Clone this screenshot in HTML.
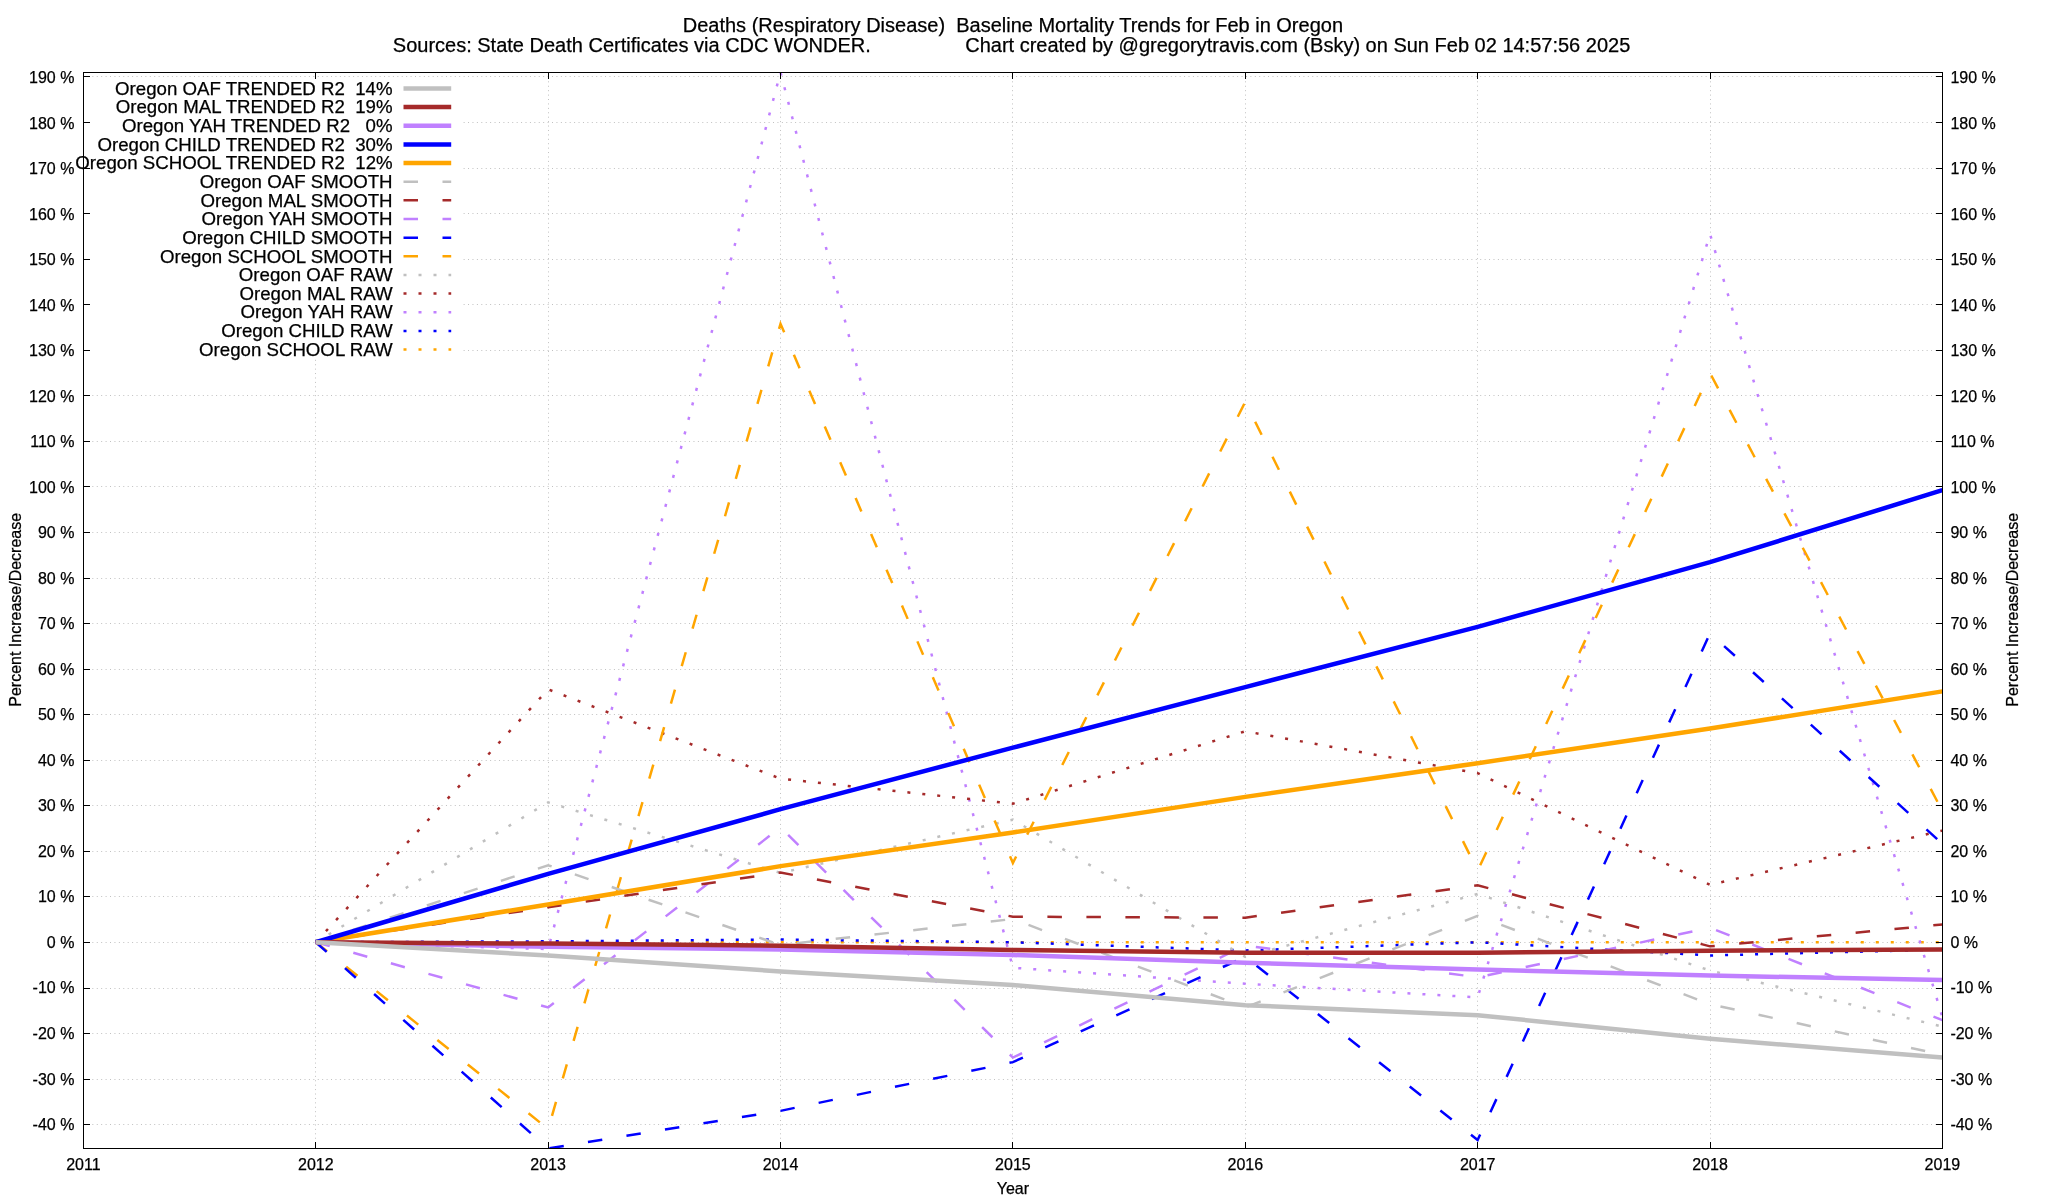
<!DOCTYPE html><html><head><meta charset="utf-8"><style>html,body{margin:0;padding:0;background:#fff;}svg{display:block;will-change:transform;}text{font-family:"Liberation Sans",sans-serif;fill:#000;stroke:#000;stroke-width:0.25px;}</style></head><body>
<svg width="2048" height="1200" viewBox="0 0 2048 1200">
<rect x="0" y="0" width="2048" height="1200" fill="#fff"/>
<path d="M83.5 1124.5H1942.5M83.5 1079.5H1942.5M83.5 1033.5H1942.5M83.5 988.5H1942.5M83.5 942.5H1942.5M83.5 896.5H1942.5M83.5 851.5H1942.5M83.5 805.5H1942.5M83.5 760.5H1942.5M83.5 714.5H1942.5M83.5 669.5H1942.5M83.5 623.5H1942.5M83.5 578.5H1942.5M83.5 532.5H1942.5M83.5 486.5H1942.5M83.5 441.5H1942.5M83.5 395.5H1942.5M83.5 350.5H1942.5M83.5 304.5H1942.5M83.5 259.5H1942.5M83.5 213.5H1942.5M83.5 168.5H1942.5M83.5 122.5H1942.5M83.5 76.5H1942.5M315.5 72.5V1148.5M548.5 72.5V1148.5M780.5 72.5V1148.5M1012.5 72.5V1148.5M1245.5 72.5V1148.5M1477.5 72.5V1148.5M1710.5 72.5V1148.5" fill="none" stroke="#c0c0c0" stroke-width="1" stroke-dasharray="1 3.42"/>
<g font-size="16"><text x="74.4" y="1130.0" text-anchor="end">-40 %</text><text x="1950.4" y="1130.0">-40 %</text><text x="74.4" y="1084.5" text-anchor="end">-30 %</text><text x="1950.4" y="1084.5">-30 %</text><text x="74.4" y="1038.9" text-anchor="end">-20 %</text><text x="1950.4" y="1038.9">-20 %</text><text x="74.4" y="993.4" text-anchor="end">-10 %</text><text x="1950.4" y="993.4">-10 %</text><text x="74.4" y="947.9" text-anchor="end">0 %</text><text x="1950.4" y="947.9">0 %</text><text x="74.4" y="902.4" text-anchor="end">10 %</text><text x="1950.4" y="902.4">10 %</text><text x="74.4" y="856.9" text-anchor="end">20 %</text><text x="1950.4" y="856.9">20 %</text><text x="74.4" y="811.3" text-anchor="end">30 %</text><text x="1950.4" y="811.3">30 %</text><text x="74.4" y="765.8" text-anchor="end">40 %</text><text x="1950.4" y="765.8">40 %</text><text x="74.4" y="720.3" text-anchor="end">50 %</text><text x="1950.4" y="720.3">50 %</text><text x="74.4" y="674.8" text-anchor="end">60 %</text><text x="1950.4" y="674.8">60 %</text><text x="74.4" y="629.3" text-anchor="end">70 %</text><text x="1950.4" y="629.3">70 %</text><text x="74.4" y="583.7" text-anchor="end">80 %</text><text x="1950.4" y="583.7">80 %</text><text x="74.4" y="538.2" text-anchor="end">90 %</text><text x="1950.4" y="538.2">90 %</text><text x="74.4" y="492.7" text-anchor="end">100 %</text><text x="1950.4" y="492.7">100 %</text><text x="74.4" y="447.2" text-anchor="end">110 %</text><text x="1950.4" y="447.2">110 %</text><text x="74.4" y="401.7" text-anchor="end">120 %</text><text x="1950.4" y="401.7">120 %</text><text x="74.4" y="356.1" text-anchor="end">130 %</text><text x="1950.4" y="356.1">130 %</text><text x="74.4" y="310.6" text-anchor="end">140 %</text><text x="1950.4" y="310.6">140 %</text><text x="74.4" y="265.1" text-anchor="end">150 %</text><text x="1950.4" y="265.1">150 %</text><text x="74.4" y="219.6" text-anchor="end">160 %</text><text x="1950.4" y="219.6">160 %</text><text x="74.4" y="174.1" text-anchor="end">170 %</text><text x="1950.4" y="174.1">170 %</text><text x="74.4" y="128.5" text-anchor="end">180 %</text><text x="1950.4" y="128.5">180 %</text><text x="74.4" y="83.0" text-anchor="end">190 %</text><text x="1950.4" y="83.0">190 %</text><text x="83.4" y="1170" text-anchor="middle">2011</text><text x="315.8" y="1170" text-anchor="middle">2012</text><text x="548.1" y="1170" text-anchor="middle">2013</text><text x="780.5" y="1170" text-anchor="middle">2014</text><text x="1012.9" y="1170" text-anchor="middle">2015</text><text x="1245.3" y="1170" text-anchor="middle">2016</text><text x="1477.7" y="1170" text-anchor="middle">2017</text><text x="1710.0" y="1170" text-anchor="middle">2018</text><text x="1942.4" y="1170" text-anchor="middle">2019</text></g>
<text font-size="16" x="1012.9" y="1193.7" text-anchor="middle">Year</text>
<text font-size="16" transform="translate(21 609.8) rotate(-90)" text-anchor="middle">Percent Increase/Decrease</text>
<text font-size="16" transform="translate(2018 609.8) rotate(-90)" text-anchor="middle">Percent Increase/Decrease</text>
<text font-size="20" x="1012.9" y="32" text-anchor="middle" xml:space="preserve">Deaths (Respiratory Disease)  Baseline Mortality Trends for Feb in Oregon</text>
<text font-size="20" x="392.8" y="51.7">Sources: State Death Certificates via CDC WONDER.</text>
<text font-size="20" x="965.2" y="51.7">Chart created by @gregorytravis.com (Bsky) on Sun Feb 02 14:57:56 2025</text>
<defs><clipPath id="pc"><rect x="83.5" y="72.5" width="1859.0" height="1076.0"/></clipPath></defs>
<g clip-path="url(#pc)"><polyline points="315.77,942.25 548.15,942.25 780.52,942.25 1012.90,942.25 1245.28,942.25 1477.65,942.25 1710.03,942.25 1942.40,942.25" fill="none" stroke="#ffa500" stroke-width="2.5" stroke-dasharray="3 12" stroke-linejoin="miter" stroke-linecap="butt"/><polyline points="315.77,942.25 548.15,941.34 780.52,939.52 1012.90,942.25 1245.28,950.45 1477.65,942.25 1710.03,955.47 1942.40,949.54" fill="none" stroke="#0000ff" stroke-width="2.5" stroke-dasharray="3 12" stroke-linejoin="miter" stroke-linecap="butt"/><polyline points="315.77,942.25 548.15,949.09 780.52,72.32 1012.90,967.77 1245.28,983.72 1477.65,997.39 1710.03,234.09 1942.40,1017.44" fill="none" stroke="#c080ff" stroke-width="2.5" stroke-dasharray="3 12" stroke-linejoin="miter" stroke-linecap="butt"/><polyline points="315.77,942.25 548.15,689.34 780.52,778.65 1012.90,803.72 1245.28,731.26 1477.65,773.19 1710.03,884.83 1942.40,830.60" fill="none" stroke="#a52a2a" stroke-width="2.5" stroke-dasharray="3 12" stroke-linejoin="miter" stroke-linecap="butt"/><polyline points="315.77,942.25 548.15,802.35 780.52,872.98 1012.90,819.67 1245.28,956.83 1477.65,893.95 1710.03,970.50 1942.40,1026.55" fill="none" stroke="#c0c0c0" stroke-width="2.5" stroke-dasharray="3 12" stroke-linejoin="miter" stroke-linecap="butt"/><polyline points="315.77,942.25 548.15,1129.09 780.52,323.87 1012.90,862.96 1245.28,401.79 1477.65,870.71 1710.03,373.08 1942.40,811.01" fill="none" stroke="#ffa500" stroke-width="2.5" stroke-dasharray="14.5 24.5" stroke-linejoin="miter" stroke-linecap="butt"/><polyline points="315.77,942.25 548.15,1148.45 780.52,1110.86 1012.90,1062.10 1245.28,956.83 1477.65,1140.02 1710.03,633.29 1942.40,843.82" fill="none" stroke="#0000ff" stroke-width="2.5" stroke-dasharray="14.5 24.5" stroke-linejoin="miter" stroke-linecap="butt"/><polyline points="315.77,942.25 548.15,1007.42 780.52,827.41 1012.90,1057.54 1245.28,945.44 1477.65,977.34 1710.03,927.67 1942.40,1020.17" fill="none" stroke="#c080ff" stroke-width="2.5" stroke-dasharray="14.5 24.5" stroke-linejoin="miter" stroke-linecap="butt"/><polyline points="315.77,942.25 548.15,907.16 780.52,872.53 1012.90,916.73 1245.28,917.64 1477.65,885.29 1710.03,946.35 1942.40,924.48" fill="none" stroke="#a52a2a" stroke-width="2.5" stroke-dasharray="14.5 24.5" stroke-linejoin="miter" stroke-linecap="butt"/><polyline points="315.77,942.25 548.15,865.24 780.52,944.98 1012.90,919.01 1245.28,1007.42 1477.65,915.82 1710.03,1004.23 1942.40,1054.81" fill="none" stroke="#c0c0c0" stroke-width="2.5" stroke-dasharray="14.5 24.5" stroke-linejoin="miter" stroke-linecap="butt"/><polyline points="315.77,942.25 548.15,904.43 780.52,866.15 1012.90,832.43 1245.28,796.88 1477.65,763.16 1710.03,728.53 1942.40,691.39" fill="none" stroke="#ffa500" stroke-width="4.5" stroke-linejoin="miter" stroke-linecap="butt"/><polyline points="315.77,942.25 548.15,873.89 780.52,809.19 1012.90,747.67 1245.28,687.06 1477.65,626.91 1710.03,562.20 1942.40,490.20" fill="none" stroke="#0000ff" stroke-width="4.5" stroke-linejoin="miter" stroke-linecap="butt"/><polyline points="315.77,942.25 548.15,946.81 780.52,949.54 1012.90,955.01 1245.28,962.76 1477.65,969.59 1710.03,975.52 1942.40,980.07" fill="none" stroke="#c080ff" stroke-width="4.5" stroke-linejoin="miter" stroke-linecap="butt"/><polyline points="315.77,942.25 548.15,943.62 780.52,945.67 1012.90,950.00 1245.28,952.73 1477.65,952.73 1710.03,950.68 1942.40,949.54" fill="none" stroke="#a52a2a" stroke-width="4.5" stroke-linejoin="miter" stroke-linecap="butt"/><polyline points="315.77,942.25 548.15,955.47 780.52,971.41 1012.90,985.09 1245.28,1005.14 1477.65,1015.16 1710.03,1038.86 1942.40,1057.54" fill="none" stroke="#c0c0c0" stroke-width="4.5" stroke-linejoin="miter" stroke-linecap="butt"/></g>
<rect x="84" y="79.1" width="377" height="279.7" fill="#fff"/>
<text x="392.6" y="94.83" text-anchor="end" font-size="18.67" xml:space="preserve">Oregon OAF TRENDED R2  14%</text><path d="M403.5 88.43H451.2" fill="none" stroke="#c0c0c0" stroke-width="4.5"/><text x="392.6" y="113.46" text-anchor="end" font-size="18.67" xml:space="preserve">Oregon MAL TRENDED R2  19%</text><path d="M403.5 107.08H451.2" fill="none" stroke="#a52a2a" stroke-width="4.5"/><text x="392.6" y="132.09" text-anchor="end" font-size="18.67" xml:space="preserve">Oregon YAH TRENDED R2   0%</text><path d="M403.5 125.73H451.2" fill="none" stroke="#c080ff" stroke-width="4.5"/><text x="392.6" y="150.72" text-anchor="end" font-size="18.67" xml:space="preserve">Oregon CHILD TRENDED R2  30%</text><path d="M403.5 144.38H451.2" fill="none" stroke="#0000ff" stroke-width="4.5"/><text x="392.6" y="169.35" text-anchor="end" font-size="18.67" xml:space="preserve">Oregon SCHOOL TRENDED R2  12%</text><path d="M403.5 163.03H451.2" fill="none" stroke="#ffa500" stroke-width="4.5"/><text x="392.6" y="187.98" text-anchor="end" font-size="18.67" xml:space="preserve">Oregon OAF SMOOTH</text><path d="M403.5 181.68H451.2" fill="none" stroke="#c0c0c0" stroke-width="2.5" stroke-dasharray="14.5 24.5"/><text x="392.6" y="206.61" text-anchor="end" font-size="18.67" xml:space="preserve">Oregon MAL SMOOTH</text><path d="M403.5 200.33H451.2" fill="none" stroke="#a52a2a" stroke-width="2.5" stroke-dasharray="14.5 24.5"/><text x="392.6" y="225.24" text-anchor="end" font-size="18.67" xml:space="preserve">Oregon YAH SMOOTH</text><path d="M403.5 218.98H451.2" fill="none" stroke="#c080ff" stroke-width="2.5" stroke-dasharray="14.5 24.5"/><text x="392.6" y="243.87" text-anchor="end" font-size="18.67" xml:space="preserve">Oregon CHILD SMOOTH</text><path d="M403.5 237.63H451.2" fill="none" stroke="#0000ff" stroke-width="2.5" stroke-dasharray="14.5 24.5"/><text x="392.6" y="262.50" text-anchor="end" font-size="18.67" xml:space="preserve">Oregon SCHOOL SMOOTH</text><path d="M403.5 256.28H451.2" fill="none" stroke="#ffa500" stroke-width="2.5" stroke-dasharray="14.5 24.5"/><text x="392.6" y="281.13" text-anchor="end" font-size="18.67" xml:space="preserve">Oregon OAF RAW</text><path d="M403.5 274.93H451.2" fill="none" stroke="#c0c0c0" stroke-width="2.5" stroke-dasharray="3 12"/><text x="392.6" y="299.76" text-anchor="end" font-size="18.67" xml:space="preserve">Oregon MAL RAW</text><path d="M403.5 293.58H451.2" fill="none" stroke="#a52a2a" stroke-width="2.5" stroke-dasharray="3 12"/><text x="392.6" y="318.39" text-anchor="end" font-size="18.67" xml:space="preserve">Oregon YAH RAW</text><path d="M403.5 312.23H451.2" fill="none" stroke="#c080ff" stroke-width="2.5" stroke-dasharray="3 12"/><text x="392.6" y="337.02" text-anchor="end" font-size="18.67" xml:space="preserve">Oregon CHILD RAW</text><path d="M403.5 330.88H451.2" fill="none" stroke="#0000ff" stroke-width="2.5" stroke-dasharray="3 12"/><text x="392.6" y="355.65" text-anchor="end" font-size="18.67" xml:space="preserve">Oregon SCHOOL RAW</text><path d="M403.5 349.53H451.2" fill="none" stroke="#ffa500" stroke-width="2.5" stroke-dasharray="3 12"/>
<path d="M83.5 1124.5h6.5M1942.5 1124.5h-6.5M83.5 1079.5h6.5M1942.5 1079.5h-6.5M83.5 1033.5h6.5M1942.5 1033.5h-6.5M83.5 988.5h6.5M1942.5 988.5h-6.5M83.5 942.5h6.5M1942.5 942.5h-6.5M83.5 896.5h6.5M1942.5 896.5h-6.5M83.5 851.5h6.5M1942.5 851.5h-6.5M83.5 805.5h6.5M1942.5 805.5h-6.5M83.5 760.5h6.5M1942.5 760.5h-6.5M83.5 714.5h6.5M1942.5 714.5h-6.5M83.5 669.5h6.5M1942.5 669.5h-6.5M83.5 623.5h6.5M1942.5 623.5h-6.5M83.5 578.5h6.5M1942.5 578.5h-6.5M83.5 532.5h6.5M1942.5 532.5h-6.5M83.5 486.5h6.5M1942.5 486.5h-6.5M83.5 441.5h6.5M1942.5 441.5h-6.5M83.5 395.5h6.5M1942.5 395.5h-6.5M83.5 350.5h6.5M1942.5 350.5h-6.5M83.5 304.5h6.5M1942.5 304.5h-6.5M83.5 259.5h6.5M1942.5 259.5h-6.5M83.5 213.5h6.5M1942.5 213.5h-6.5M83.5 168.5h6.5M1942.5 168.5h-6.5M83.5 122.5h6.5M1942.5 122.5h-6.5M83.5 76.5h6.5M1942.5 76.5h-6.5M83.5 1148.5v-6.5M83.5 72.5v6.5M315.5 1148.5v-6.5M315.5 72.5v6.5M548.5 1148.5v-6.5M548.5 72.5v6.5M780.5 1148.5v-6.5M780.5 72.5v6.5M1012.5 1148.5v-6.5M1012.5 72.5v6.5M1245.5 1148.5v-6.5M1245.5 72.5v6.5M1477.5 1148.5v-6.5M1477.5 72.5v6.5M1710.5 1148.5v-6.5M1710.5 72.5v6.5M1942.5 1148.5v-6.5M1942.5 72.5v6.5" fill="none" stroke="#000" stroke-width="1"/>
<rect x="83.5" y="72.5" width="1859.0" height="1076.0" fill="none" stroke="#000" stroke-width="1"/>
</svg></body></html>
